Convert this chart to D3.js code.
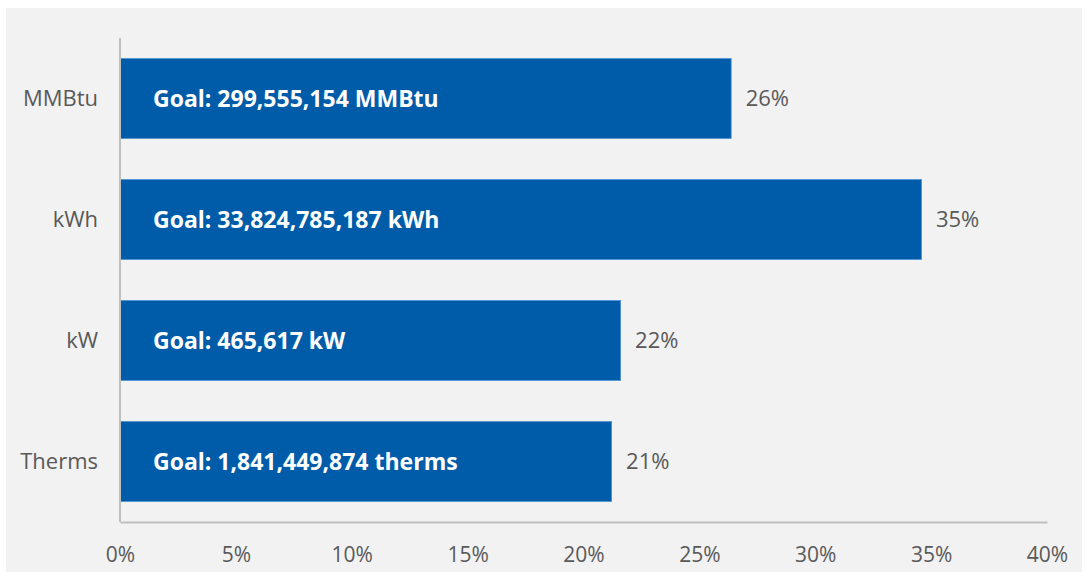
<!DOCTYPE html>
<html>
<head>
<meta charset="utf-8">
<script src="https://cdn.jsdelivr.net/npm/d3@7"></script>
<style>
  html, body { margin: 0; padding: 0; background: #ffffff; }
  svg { display: block; }
  text { font-family: "Open Sans", "Liberation Sans", sans-serif; }
</style>
</head>
<body>
<svg id="chart" width="1087" height="577"></svg>
<script>
// Savings achieved by energy unit, as a share of goal
const categories = ["MMBtu", "kWh", "kW", "Therms"];
const percentValues = [26.35, 34.56, 21.58, 21.19];
const goalLabels = [
  "Goal: 299,555,154 MMBtu",
  "Goal: 33,824,785,187 kWh",
  "Goal: 465,617 kW",
  "Goal: 1,841,449,874 therms"
];
const xTicks = [0, 5, 10, 15, 20, 25, 30, 35, 40];

const svg = d3.select("#chart");
const W = 1087, H = 577;
const margin = { left: 120, right: 40, top: 38, bottom: 55 };

// panel background
svg.append("rect")
  .attr("x", 6).attr("y", 8)
  .attr("width", 1076).attr("height", 564)
  .attr("fill", "#f2f2f2");

const x = d3.scaleLinear().domain([0, 40]).range([margin.left, 1047]);
const y = d3.scaleBand().domain(categories)
  .range([margin.top, H - margin.bottom])
  .paddingInner(0.34).paddingOuter(0.17);

const rows = categories.map((c, i) => ({ cat: c, v: percentValues[i], goal: goalLabels[i] }));

// bars
svg.append("g").selectAll("rect").data(rows).join("rect")
  .attr("x", x(0) + 0.5)
  .attr("y", d => y(d.cat))
  .attr("width", d => x(d.v) - x(0))
  .attr("height", y.bandwidth())
  .attr("fill", "#005ca9")
  .attr("stroke", "#4a8fd1")
  .attr("stroke-width", 0.8);

// goal text inside bars
svg.append("g").selectAll("text").data(rows).join("text")
  .attr("x", 153)
  .attr("y", d => y(d.cat) + y.bandwidth() / 2)
  .attr("dy", "0.36em")
  .attr("fill", "#ffffff")
  .attr("font-weight", 700)
  .attr("font-size", 23)
  .text(d => d.goal);

// value labels at bar ends
const fmt = d => d3.format(".0f")(d) + "%";
svg.append("g").selectAll("text").data(rows).join("text")
  .attr("x", d => x(d.v) + 15)
  .attr("y", d => y(d.cat) + y.bandwidth() / 2)
  .attr("dy", "0.36em")
  .attr("fill", "#595959")
  .attr("font-size", 22)
  .text(d => fmt(d.v));

// y axis: category labels and spine
const yAxis = d3.axisLeft(y).tickSize(0).tickPadding(22);
const gy = svg.append("g").attr("transform", `translate(${margin.left},0)`).call(yAxis);
gy.select(".domain").remove();
gy.selectAll("text").attr("fill", "#595959").attr("font-size", 22)
  .attr("font-family", "'Open Sans', sans-serif");

svg.append("line")
  .attr("x1", margin.left).attr("x2", margin.left)
  .attr("y1", margin.top).attr("y2", H - margin.bottom)
  .attr("stroke", "#bfbfbf").attr("stroke-width", 2);

// x axis
const xAxis = d3.axisBottom(x).tickValues(xTicks).tickSize(0).tickPadding(25)
  .tickFormat(d => d + "%");
const gx = svg.append("g").attr("transform", `translate(0,${H - margin.bottom})`).call(xAxis);
gx.select(".domain").attr("stroke", "#bfbfbf").attr("stroke-width", 2);
gx.selectAll("text").attr("fill", "#595959").attr("font-size", 21)
  .attr("font-family", "'Open Sans', sans-serif");
</script>
</body>
</html>
